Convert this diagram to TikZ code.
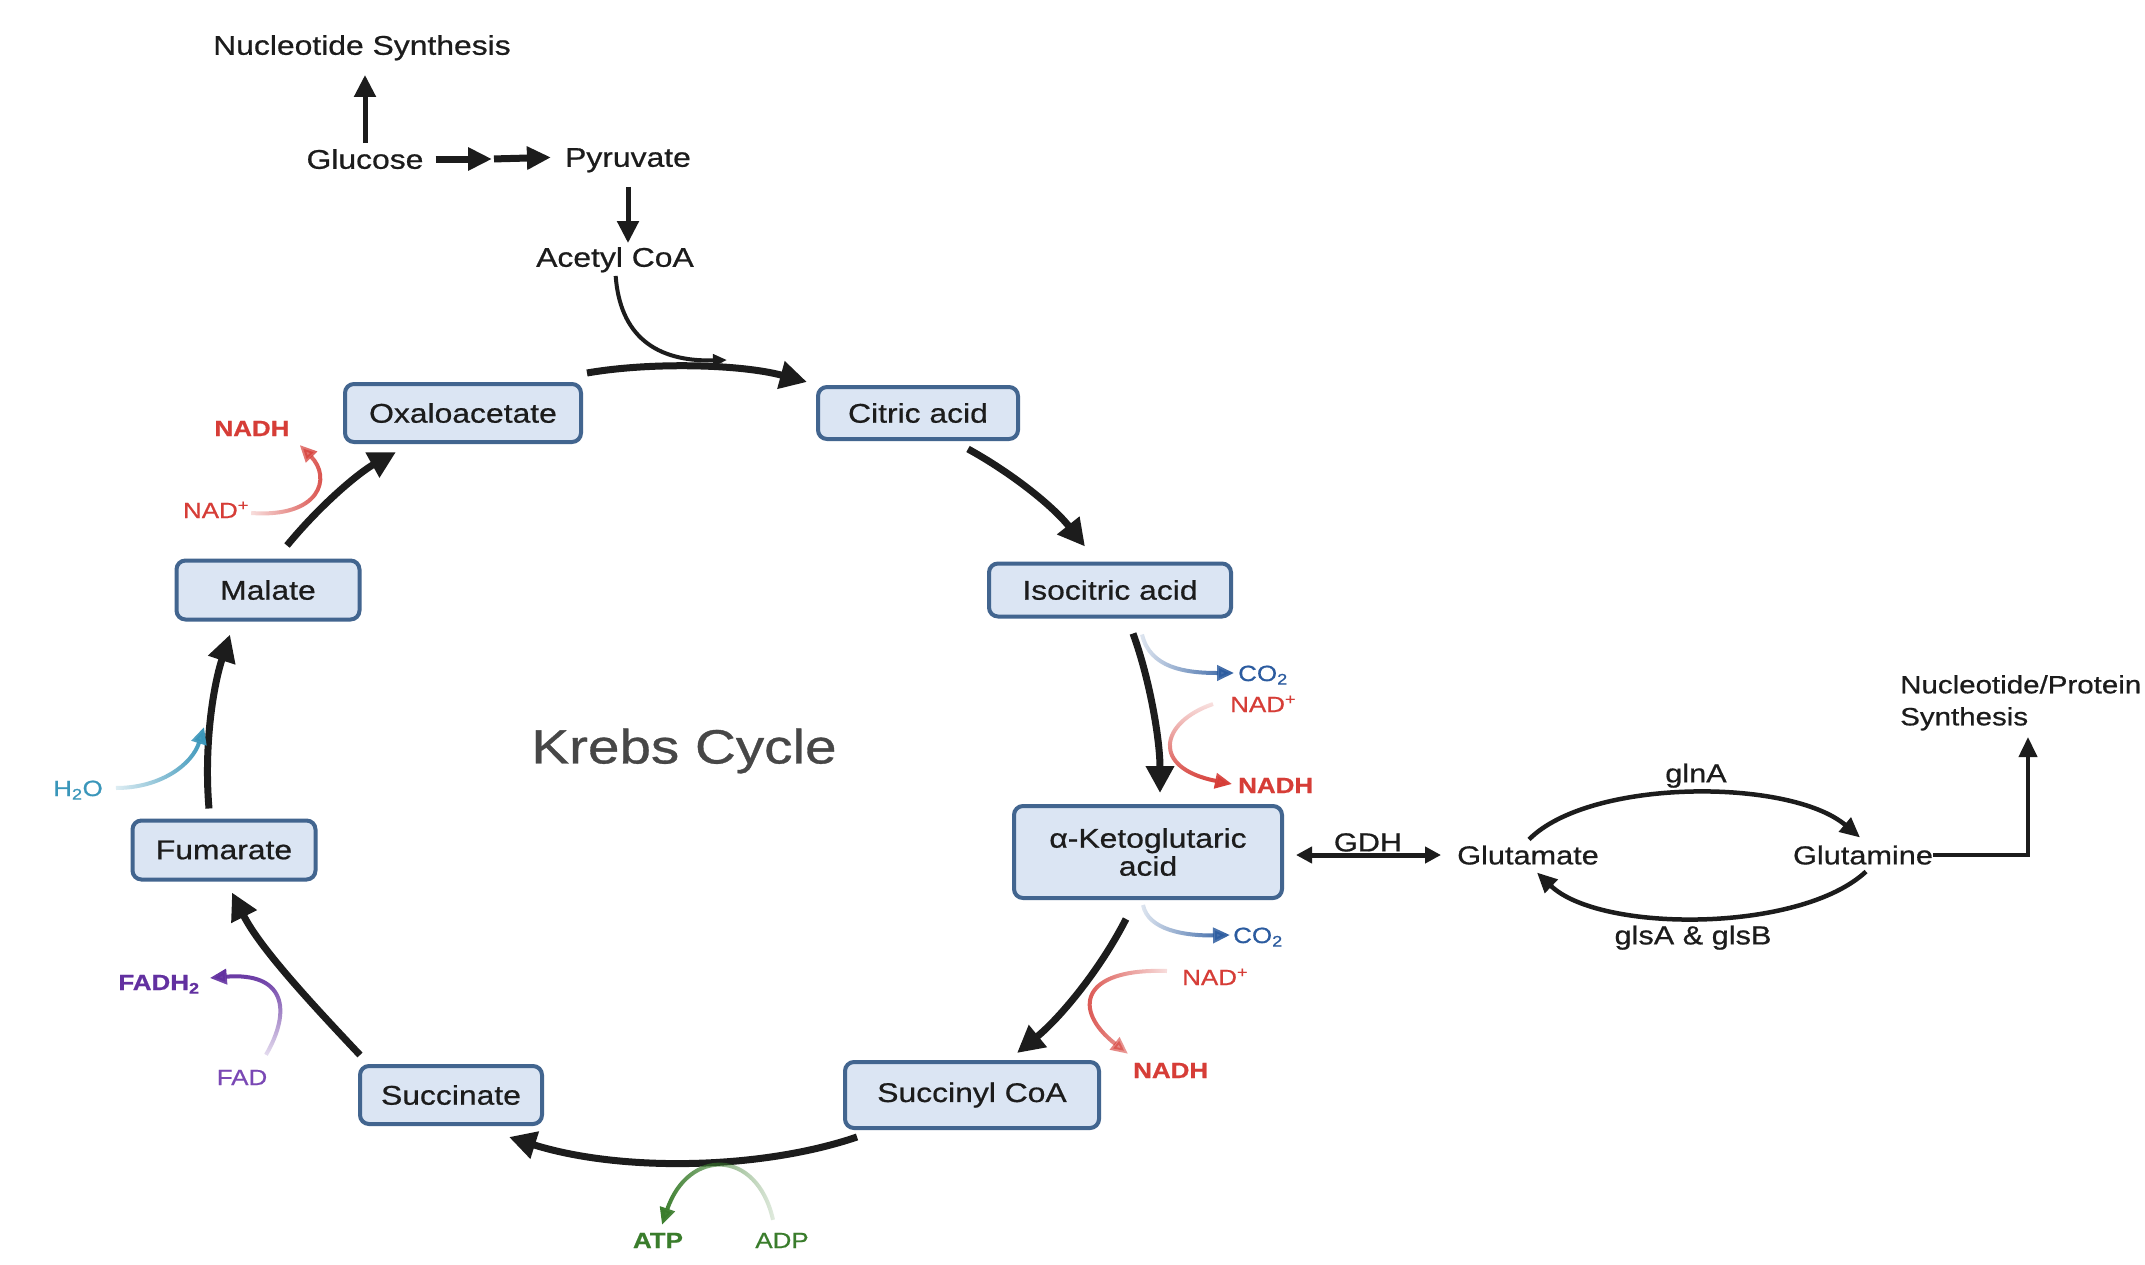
\documentclass[tikz,border=0pt]{standalone}
\usepackage{fontspec}
\setmainfont{Liberation Sans}[FakeStretch=1.18, FakeBold=0.7]
\usetikzlibrary{arrows.meta,fadings,calc}
\definecolor{boxfill}{HTML}{DBE5F3}
\definecolor{boxline}{HTML}{42658F}
\definecolor{ink}{HTML}{1C1C1C}
\definecolor{nadred}{HTML}{D63D37}
\definecolor{coblue}{HTML}{2B5B9F}
\definecolor{wteal}{HTML}{3A96BA}
\definecolor{fadpurple}{HTML}{6230A0}
\definecolor{fadlight}{HTML}{7A48B5}
\definecolor{atpgreen}{HTML}{3A7D2C}
\definecolor{krebsgray}{HTML}{474747}
\tikzfading[name=fadein, left color=transparent!85, middle color=transparent!0, right color=transparent!0]
\begin{document}
\begin{tikzpicture}[x=1pt,y=-1pt,
  box/.style={draw=boxline, fill=boxfill, line width=4pt, rounded corners=9pt, inner sep=0pt, font=\fontsize{27}{28}\selectfont, align=center, text=ink},
  lbl/.style={inner sep=0pt, font=\fontsize{27}{32}\selectfont, text height=19.5pt, text depth=0pt, text=ink},
  rlbl/.style={inner sep=0pt, font=\fontsize{26}{32}\selectfont, text height=18.7pt, text depth=0pt, text=ink},
  chem/.style={inner sep=0pt, font=\fontsize{22}{26}\selectfont, text height=16pt, text depth=0pt},
  chemb/.style={chem, font=\fontsize{22}{26}\selectfont\bfseries},
  cyc/.style={draw=ink, line width=7pt, -{Triangle[length=27pt,width=27pt]}},
  blk/.style={draw=ink, line width=5pt, -{Triangle[length=22pt,width=21pt]}},
  dblarr/.style={draw=ink, line width=7pt, -{Triangle[length=24pt,width=22pt]}},
  thinblk/.style={draw=ink, line width=4.5pt, -{Triangle[length=20pt,width=18pt]}},
  gdharr/.style={draw=ink, line width=5pt, {Triangle[length=16pt,width=16pt]}-{Triangle[length=16pt,width=16pt]}},
  side/.style={line width=4pt, -{Triangle[length=17pt,width=15pt]}},
  fade/.style={path fading=fadein, fading angle=#1},
]
\useasboundingbox (0,0) rectangle (2145,1264);
\fill[white] (0,0) rectangle (2145,1264);
\clip (0,0) rectangle (2145,1264);

% top labels
\node[lbl] (nucsyn) at (362,45) {Nucleotide Synthesis};
\node[lbl] (glucose) at (365,159) {Glucose};
\node[lbl] (pyruvate) at (628,157) {Pyruvate};
\node[lbl] (acetyl) at (615,257) {Acetyl CoA};

% cycle boxes
\node[box, minimum width=236pt, minimum height=58pt] (oxa) at (463,413) {Oxaloacetate};
\node[box, minimum width=200pt, minimum height=52pt] (cit) at (918,413) {Citric acid};
\node[box, minimum width=242pt, minimum height=53pt] (iso) at (1110,590) {Isocitric acid};
\node[box, minimum width=268pt, minimum height=92pt] (akg) at (1148,852) {α-Ketoglutaric\\acid};
\node[box, minimum width=254pt, minimum height=66pt] (sucoa) at (972,1095) {Succinyl CoA};
\node[box, minimum width=182pt, minimum height=58pt] (succ) at (451,1095) {Succinate};
\node[box, minimum width=183pt, minimum height=59pt] (fum) at (224,850) {Fumarate};
\node[box, minimum width=183pt, minimum height=59pt] (mal) at (268,590) {Malate};

\node[text=krebsgray, font=\fontsize{48}{56}\selectfont, inner sep=0pt] (krebs) at (684,751) {Krebs Cycle};

% side chemistry labels
\node[chem, text=coblue, anchor=west] (co2a) at (1238,673) {CO\textsubscript{2}};
\node[chem, text=nadred, anchor=west] (nada) at (1230,704) {NAD\textsuperscript{+}};
\node[chemb, text=nadred, anchor=west] (nadha) at (1238,785) {NADH};
\node[chem, text=coblue, anchor=west] (co2b) at (1233,935) {CO\textsubscript{2}};
\node[chem, text=nadred, anchor=west] (nadb) at (1182,977) {NAD\textsuperscript{+}};
\node[chemb, text=nadred, anchor=west] (nadhb) at (1133,1070) {NADH};
\node[chemb, text=atpgreen] (atp) at (658,1240) {ATP};
\node[chem, text=atpgreen] (adp) at (782,1240) {ADP};
\node[chemb, text=fadpurple] (fadh) at (159,982) {FADH\textsubscript{2}};
\node[chem, text=fadlight] (fad) at (242,1077) {FAD};
\node[chem, text=wteal] (h2o) at (78,788) {H\textsubscript{2}O};
\node[chem, text=nadred] (nadc) at (216,510) {NAD\textsuperscript{+}};
\node[chemb, text=nadred] (nadhc) at (252,428) {NADH};

% right group
\node[rlbl] (gdh) at (1368,842) {GDH};
\node[rlbl] (glutamate) at (1528,855) {Glutamate};
\node[rlbl] (glutamine) at (1863,855) {Glutamine};
\node[rlbl] (glna) at (1696,773) {glnA};
\node[rlbl] (glsab) at (1693,935) {glsA \& glsB};
\node[inner sep=0pt, anchor=north west, align=left, font=\fontsize{25}{32}\selectfont, text=ink] (prot) at (1900,675) {Nucleotide/Protein\\Synthesis};

% top arrows
\draw[blk, shorten <=6pt, shorten >=20pt] (glucose.north) -- (glucose.north |- nucsyn.south);
\coordinate (gp) at (492,159);
\draw[dblarr, shorten <=12pt] (glucose.east) -- (gp);
\draw[dblarr, shorten <=2pt, shorten >=14pt] (gp) -- (pyruvate.west);
\draw[blk, shorten <=20pt, shorten >=4pt] (pyruvate.south) -- (pyruvate.south |- acetyl.north);
\coordinate (acj) at (727,360);
\draw[draw=ink, line width=4pt, -{Triangle[length=14pt,width=12pt]}, shorten <=9pt] (acetyl.south) .. controls (620,335) and (655,362) .. (acj);

% cycle arrows
\draw[cyc] ($(oxa.north east)+(4,-9)$) .. controls (650,362) and (740,364) .. ($(cit.north west)+(-9,-3)$);
\draw[cyc] ($(cit.south)+(50,8)$) .. controls (1010,472) and (1052,505) .. ($(iso.north)+(-25,-15)$);
\draw[cyc] ($(iso.south)+(23,15)$) .. controls (1150,680) and (1160,740) .. ($(akg.north)+(12,-11)$);
\draw[cyc] ($(akg.south)+(-22,19)$) .. controls (1100,970) and (1060,1018) .. ($(sucoa.north)+(45,-7)$);
\draw[cyc] ($(sucoa.south west)+(14,7)$) .. controls (760,1170) and (620,1172) .. ($(succ.south east)+(-35,11)$);
\draw[cyc] ($(succ.north west)+(2,-9)$) .. controls (310,1002) and (260,948) .. ($(fum.south)+(8,11)$);
\draw[cyc] ($(fum.north)+(-15,-10)$) .. controls (204,750) and (212,690) .. ($(mal.south)+(-38,13)$);
\draw[cyc] ($(mal.north)+(19,-13)$) .. controls (322,503) and (360,472) .. ($(oxa.south west)+(53,8)$);

% coloured side reactions
\draw[side, coblue, fade=0] ($(iso.south)+(32,16)$) .. controls (1150,668) and (1185,673) .. ($(co2a.west)+(-4,0)$);
\draw[side, nadred, fade=-90] ($(nada.west)+(-17,0)$) .. controls (1160,722) and (1150,768) .. ($(nadha.west)+(-6,-1)$);
\draw[side, coblue, fade=0] ($(akg.south)+(-5,5)$) .. controls (1148,930) and (1185,936) .. ($(co2b.west)+(-3,0)$);
\draw[side, nadred, fade=180] ($(nadb.west)+(-15,-6)$) .. controls (1080,968) and (1072,1010) .. ($(nadhb.north west)+(-5,-8)$);
\draw[side, atpgreen, fade=180] ($(adp.north)+(-9,-12)$) .. controls (757,1148) and (688,1148) .. ($(atp.north)+(4,-7)$);
\draw[side, fadpurple, fade=90] ($(fad.north)+(24,-14)$) .. controls (292,1010) and (285,972) .. ($(fadh.east)+(10,-4)$);
\coordinate (h2oj) at (204,727);
\draw[side, wteal, fade=0] ($(h2o.east)+(13,0)$) .. controls (160,788) and (192,765) .. (h2oj);
\draw[side, nadred, fade=0] ($(nadc.east)+(2,3)$) .. controls (320,518) and (332,478) .. ($(nadhc.east)+(10,17)$);

% right group arrows
\draw[gdharr, shorten <=12pt, shorten >=16pt] (akg.east |- glutamate.west) -- (glutamate.west);
\draw[thinblk] ($(glutamate.north)+(1,-6)$) .. controls (1590,778) and (1790,778) .. ($(glutamine.north)+(-3,-8)$);
\draw[thinblk] ($(glutamine.south)+(3,7)$) .. controls (1800,933) and (1600,933) .. ($(glutamate.south)+(9,8)$);
\coordinate (protj) at (2028,737);
\draw[thinblk, line width=4pt] (glutamine.east) -| (protj);
\end{tikzpicture}
\end{document}
